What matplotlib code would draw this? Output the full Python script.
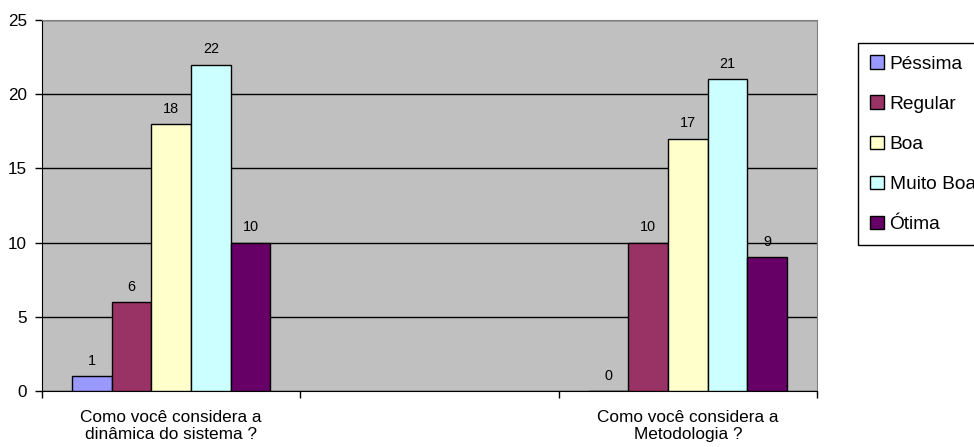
import numpy as np
import matplotlib
matplotlib.use('Agg')
import matplotlib.pyplot as plt

plt.rcParams['font.family'] = ['Liberation Sans', 'DejaVu Sans']

# dados do grafico (categoria do meio vazia)
categorias = ['Como você considera a\ndinâmica do sistema ?', '',
              'Como você considera a\nMetodologia ?']
series = ['Péssima', 'Regular', 'Boa', 'Muito Boa', 'Ótima']
pessima = [1, np.nan, 0]
regular = [6, np.nan, 10]
boa = [18, np.nan, 17]
muito_boa = [22, np.nan, 21]
otima = [10, np.nan, 9]
valores = [pessima, regular, boa, muito_boa, otima]
cores = ['#9999FF', '#993366', '#FFFFCC', '#CCFFFF', '#660066']

W, H = 974, 447
fig = plt.figure(figsize=(W / 100, H / 100), dpi=100)
ax = fig.add_axes([42 / W, (H - 391) / H, (817 - 42) / W, (391 - 20) / H])
ax.set_facecolor('#C0C0C0')

x = np.arange(len(categorias))
largura = 0.1538
for i, (nome, vals, cor) in enumerate(zip(series, valores, cores)):
    pos = x + (i - 2) * largura
    ax.bar(pos, vals, largura, color=cor, edgecolor='black',
           linewidth=1, label=nome, zorder=3)
    for xp, v in zip(pos, vals):
        if np.isnan(v):
            continue
        ax.annotate(f'{int(v)}', (xp, v), xytext=(0, 11),
                    textcoords='offset points', ha='center', va='center',
                    fontsize=10.4, zorder=4)

ax.set_ylim(0, 25)
ax.set_xlim(-0.5, 2.5)
ax.set_yticks([0, 5, 10, 15, 20, 25])
ax.yaxis.grid(True, color='black', linewidth=1, zorder=1)
ax.set_axisbelow(True)

# ticks do eixo x nas divisas das categorias
ax.set_xticks([-0.5, 0.5, 1.5, 2.5])
ax.set_xticklabels([])
ax.tick_params(axis='x', length=5, width=1, direction='out')
ax.tick_params(axis='y', length=5, width=1, direction='out',
               labelsize=12.3, pad=6)
for xi, txt in zip(x, categorias):
    ax.text(xi, -0.05, txt, transform=ax.get_xaxis_transform(),
            ha='center', va='top', fontsize=12.4)

ax.spines['left'].set_color('black')
ax.spines['bottom'].set_color('black')
ax.spines['top'].set_color('#808080')
ax.spines['right'].set_color('#808080')

leg = fig.legend(loc='upper left', bbox_to_anchor=(858 / W, 1 - 43 / H),
                 fontsize=13.8, frameon=True, fancybox=False,
                 edgecolor='black', framealpha=1, borderpad=0.65,
                 handlelength=0.7, handleheight=0.7, handletextpad=0.3,
                 labelspacing=1.18, borderaxespad=0)
leg.get_frame().set_linewidth(1)
for h in leg.legend_handles:
    h.set_edgecolor('black')

fig.savefig('out.png', dpi=100)
